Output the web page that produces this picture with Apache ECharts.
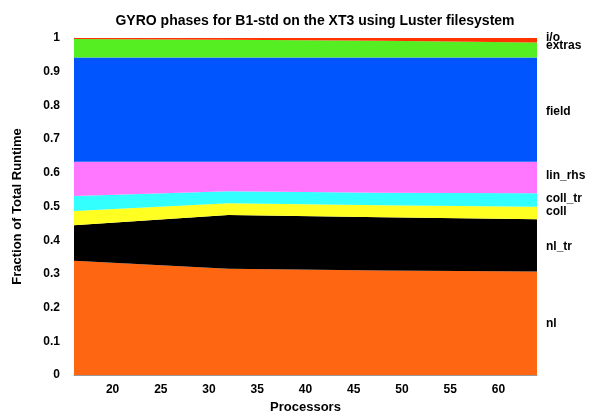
<!DOCTYPE html>
<html><head><meta charset="utf-8">
<script src="https://cdn.jsdelivr.net/npm/echarts@6/dist/echarts.min.js"></script>
<style>html,body{margin:0;padding:0;background:#fff}#c{width:592px;height:414px}</style>
</head><body><div id="c"></div>
<script>
const processors = [16, 32, 48, 64];
const nl      = [0.339, 0.315, 0.310, 0.307];
const nl_tr   = [0.105, 0.160, 0.158, 0.155];
const coll    = [0.043, 0.035, 0.036, 0.037];
const coll_tr = [0.044, 0.035, 0.037, 0.040];
const lin_rhs = [0.102, 0.088, 0.092, 0.094];
const field   = [0.309, 0.309, 0.309, 0.309];
const extras  = [0.055, 0.053, 0.050, 0.045];
const io      = [0.003, 0.005, 0.008, 0.013];
const xTicks = [20, 25, 30, 35, 40, 45, 50, 55, 60];
const seriesNames = ['nl', 'nl_tr', 'coll', 'coll_tr', 'lin_rhs', 'field', 'extras', 'i/o'];
const seriesData = [nl, nl_tr, coll, coll_tr, lin_rhs, field, extras, io];
const colors = ['#ff6612', '#000000', '#ffff22', '#33ffff', '#ff77ff', '#0055ff', '#55ee22', '#ff3300'];

const chart = echarts.init(document.getElementById('c'));
const font = 'Liberation Sans, Arial, Helvetica, sans-serif';
const labelPos = [
  ['nl', 325], ['nl_tr', 248], ['coll', 213], ['coll_tr', 200],
  ['lin_rhs', 177], ['field', 113], ['extras', 47], ['i/o', 39]
];
chart.setOption({
  animation: false,
  backgroundColor: '#fff',
  title: {
    text: 'GYRO phases for B1-std on the XT3 using Luster filesystem',
    left: 310, top: 9, textAlign: 'center',
    textStyle: { fontFamily: font, fontWeight: 'bold', fontSize: 14, color: '#000' }
  },
  grid: { left: 74, right: 55, top: 38, bottom: 39, outerBoundsMode: 'none', containLabel: false },
  xAxis: {
    type: 'value', min: 16, max: 64,
    name: 'Processors', nameLocation: 'middle', nameGap: 26,
    nameTextStyle: { fontFamily: font, fontWeight: 'bold', fontSize: 13, color: '#000' },
    axisLine: { show: true, lineStyle: { color: '#999', width: 1 } },
    axisTick: { show: false },
    splitLine: { show: false },
    axisLabel: { customValues: xTicks, fontFamily: font, fontWeight: 'bold', fontSize: 12, color: '#000', margin: 9 }
  },
  yAxis: {
    type: 'value', min: 0, max: 1, interval: 0.1,
    name: 'Fraction of Total Runtime', nameLocation: 'middle', nameGap: 50, nameRotate: 90,
    nameTextStyle: { fontFamily: font, fontWeight: 'bold', fontSize: 13, color: '#000' },
    axisLine: { show: true, lineStyle: { color: '#999', width: 1 } },
    axisTick: { show: false },
    splitLine: { show: false },
    axisLabel: { fontFamily: font, fontWeight: 'bold', fontSize: 12, color: '#000', margin: 14 }
  },
  series: seriesNames.map((n, i) => ({
    name: n, type: 'line', stack: 'total',
    data: processors.map((x, j) => [seriesData[i][j], x]),
    encode: { x: 1, y: 0 },
    symbol: 'none', lineStyle: { width: 0 },
    areaStyle: { color: colors[i], opacity: 1 },
    itemStyle: { color: colors[i] }
  })),
  graphic: labelPos.map(([t, y]) => ({
    type: 'text', left: 546, top: y - 7,
    style: { text: t, font: 'bold 12px ' + font, fill: '#000' }
  }))
});
</script></body></html>
